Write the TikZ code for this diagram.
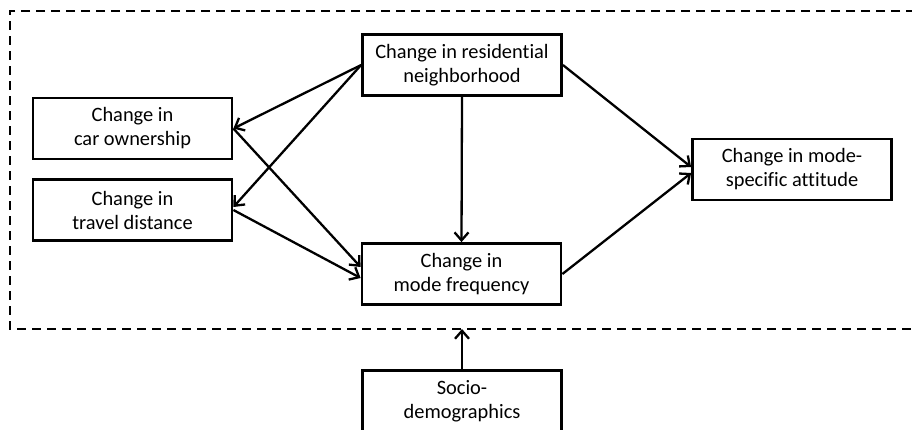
\documentclass[tikz,border=0pt]{standalone}
\usepackage{fontspec}
\setmainfont{Carlito}[Ligatures=NoCommon]
\usetikzlibrary{arrows.meta}
\tikzset{
  factor/.style={draw,line width=2.8pt,minimum width=199pt,minimum height=61pt,
    align=center,inner sep=2pt,font=\fontsize{20.4}{24}\selectfont},
  link/.style={line width=2.3pt,-{Straight Barb[length=8pt,width=14pt,line width=2.3pt]}}
}
\begin{document}
\begin{tikzpicture}[x=1pt,y=-1pt]
\useasboundingbox (0,0) rectangle (912,429);
\draw[dash pattern=on 9pt off 6pt,line width=2.8pt] (930,11) -- (10,11) -- (10,329) -- (930,329);
\coordinate (edge) at (462,329);
\node[factor] (res) at (462,65) {Change in residential\\neighborhood};
\node[factor] (car) at (132.5,128.5) {Change in\\car ownership};
\node[factor] (dist) at (132.5,210) {Change in\\travel distance};
\node[factor] (freq) at (461.5,274) {Change in\\mode frequency};
\node[factor] (att) at (792,169.5) {Change in mode-\\specific attitude};
\node[factor] (socio) at (462,401) {Socio-\\demographics};
\draw[link] (res.west) -- (car.east);
\draw[link] (res.west) -- ([yshift=3pt]dist.east);
\draw[link] (car.east) -- ([yshift=7pt]freq.west);
\draw[link] (dist.east) -- ([yshift=-4pt]freq.west);
\draw[link] (res.south) -- (freq.north);
\draw[link] (res.east) -- ([yshift=2.5pt]att.west);
\draw[link] (freq.east) -- ([yshift=-3.5pt]att.west);
\draw[link] (socio.north) -- (edge);
\end{tikzpicture}
\end{document}
